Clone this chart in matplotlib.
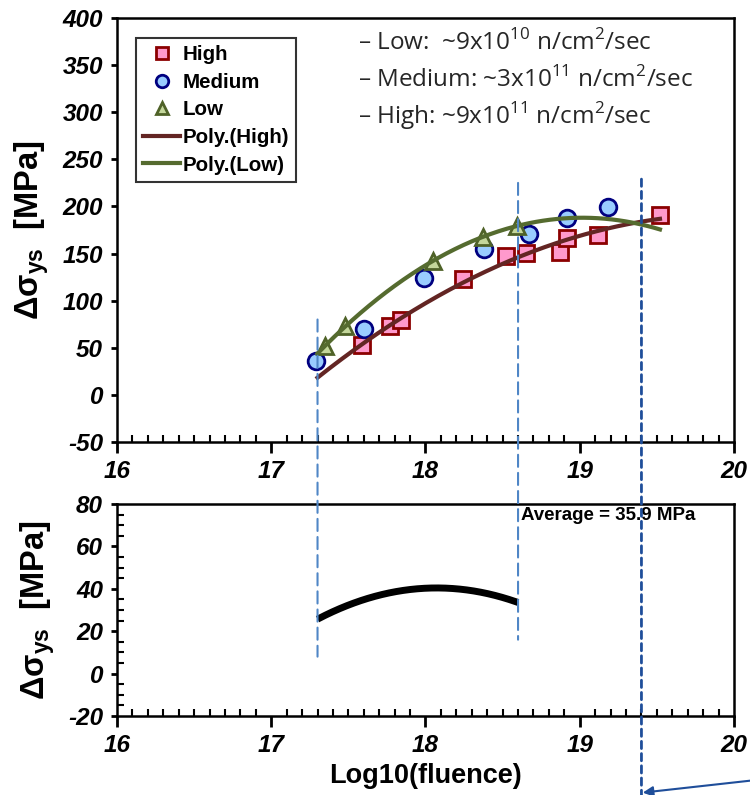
import numpy as np
import matplotlib
matplotlib.use("Agg")
import matplotlib.pyplot as plt
from matplotlib.patches import ConnectionPatch

plt.rcParams['font.family'] = ['Liberation Sans', 'DejaVu Sans']
plt.rcParams['axes.unicode_minus'] = False
plt.rcParams['mathtext.fontset'] = 'custom'
plt.rcParams['mathtext.rm'] = 'Open Sans'
plt.rcParams['mathtext.bf'] = 'Liberation Sans:bold'

# --- measured yield-stress increase vs log10 fluence, by flux level ---
high_x = [17.59, 17.77, 17.84, 18.24, 18.52, 18.65, 18.87, 18.92, 19.12, 19.52]
high_y = [53, 73, 80, 123, 147, 151, 152, 166, 170, 191]
med_x = [17.29, 17.60, 17.99, 18.38, 18.67, 18.92, 19.18]
med_y = [36, 70, 124, 155, 171, 188, 199]
low_x = [17.35, 17.48, 18.05, 18.37, 18.59]
low_y = [52, 73, 142, 168, 179]

fit_range = [17.3, 19.52]     # span of the quadratic trendlines
window = [17.3, 18.6]         # overlap window used for the difference curve
marker_x = 19.4
# (top of line in upper panel, bottom of line in lower panel)
line_ends = [(80, 8), (225, 16)]
marker_ends = (229, -58)

flux_notes = ["Low:  ~9x10$^{\\mathrm{10}}$ n/cm$^{\\mathrm{2}}$/sec",
              "Medium: ~3x10$^{\\mathrm{11}}$ n/cm$^{\\mathrm{2}}$/sec",
              "High: ~9x10$^{\\mathrm{11}}$ n/cm$^{\\mathrm{2}}$/sec"]

c_high, c_high_edge, c_high_fit = "#FF99CC", "#8B0000", "#632523"
c_med, c_med_edge = "#99CCFF", "#000080"
c_low, c_low_edge, c_low_fit = "#C4D79B", "#4F6228", "#556B2F"
c_guide, c_marker = "#4F86C6", "#1F4E9A"

fig = plt.figure(figsize=(7.5, 7.95), dpi=100)
ax1 = fig.add_axes([117 / 750, 1 - 442 / 795, 617 / 750, 424 / 795])
ax2 = fig.add_axes([117 / 750, 1 - 716 / 795, 617 / 750, 212 / 795])

p_high = np.polyfit(high_x, high_y, 2)
p_low = np.polyfit(low_x, low_y, 2)
xf = np.linspace(fit_range[0], fit_range[1], 200)

ax1.plot(high_x, high_y, 's', ms=11, mfc=c_high, mec=c_high_edge, mew=2, label="High", zorder=3)
ax1.plot(med_x, med_y, 'o', ms=12, mfc=c_med, mec=c_med_edge, mew=2, label="Medium", zorder=3)
ax1.plot(low_x, low_y, '^', ms=11, mfc=c_low, mec=c_low_edge, mew=2, label="Low", zorder=3)
ax1.plot(xf, np.polyval(p_high, xf), color=c_high_fit, lw=3, label="Poly.(High)", zorder=4)
ax1.plot(xf, np.polyval(p_low, xf), color=c_low_fit, lw=3, label="Poly.(Low)", zorder=4)

xw = np.linspace(window[0], window[1], 200)
ax2.plot(xw, np.polyval(p_low, xw) - np.polyval(p_high, xw), color="black", lw=5,
         solid_capstyle='butt')

leg = ax1.legend(loc='upper left', bbox_to_anchor=(0.031, 0.953), borderaxespad=0,
                 fancybox=False, frameon=True, handlelength=1.8, handletextpad=0.1,
                 labelspacing=0.42, borderpad=0.35, markerscale=0.75,
                 prop={'family': 'Liberation Sans', 'weight': 'bold', 'size': 14.8})
leg.get_frame().set_edgecolor("black")
leg.get_frame().set_linewidth(1.5)

for i, note in enumerate(flux_notes):
    ax1.text(0.39, 0.941 - i * 0.086, "\u2013 " + note, transform=ax1.transAxes,
             va='center', ha='left', fontsize=17.5, family='Open Sans', color="#262626")

ax2.text(window[1] + 0.02, 74.5, "Average = 35.9 MPa", fontsize=13.5,
         fontweight='bold', va='center', ha='left')

for ax, lo, hi, step, minor in [(ax1, -50, 400, 50, None), (ax2, -20, 80, 20, 5)]:
    ax.set_xlim(16, 20)
    ax.set_ylim(lo, hi)
    ax.set_xticks(np.arange(16, 20.01, 1))
    ax.set_xticks(np.arange(16, 20.01, 0.1), minor=True)
    ax.set_yticks(np.arange(lo, hi + 1, step))
    if minor:
        ax.set_yticks(np.arange(lo, hi + 1, minor), minor=True)
    ax.tick_params(axis='x', which='major', direction='out', length=8, width=2, pad=5)
    ax.tick_params(axis='x', which='minor', direction='in', length=5, width=1.5)
    ax.tick_params(axis='y', which='major', direction='out', length=4, width=2, pad=6)
    ax.tick_params(axis='y', which='minor', direction='in', length=5, width=1.5)
    ax.tick_params(top=False, right=False)
    plt.setp(ax.get_xticklabels() + ax.get_yticklabels(), fontweight='bold',
             fontstyle='italic', fontsize=17.5)
    for s in ax.spines.values():
        s.set_linewidth(1.8)
    ax.set_ylabel("\u0394\u03c3$_{\\mathbf{ys}}$  [MPa]", fontsize=23.5, fontweight='bold',
                  labelpad=8)

ax2.set_xlabel("Log10(fluence)", fontsize=19.5, fontweight='bold', labelpad=4)

# dashed guides spanning both panels
for xv, (ytop, ybot) in zip(window, line_ends):
    cp = ConnectionPatch((xv, ytop), (xv, ybot), coordsA=ax1.transData, coordsB=ax2.transData,
                         color=c_guide, lw=1.5, linestyle=(0, (5.8, 2.9)))
    fig.add_artist(cp)
cp = ConnectionPatch((marker_x, marker_ends[0]), (marker_x, marker_ends[1]),
                     coordsA=ax1.transData, coordsB=ax2.transData,
                     color=c_marker, lw=2, linestyle=(0, (2.6, 1.8)))
fig.add_artist(cp)

fig.add_artist(plt.Annotation("", xy=(0.857, 0.003), xytext=(1.0, 0.018),
                              xycoords='figure fraction', textcoords='figure fraction',
                              arrowprops=dict(arrowstyle='-|>', color=c_marker, lw=1.5,
                                              mutation_scale=15, shrinkA=0, shrinkB=0)))

fig.savefig("out.png", dpi=100)
